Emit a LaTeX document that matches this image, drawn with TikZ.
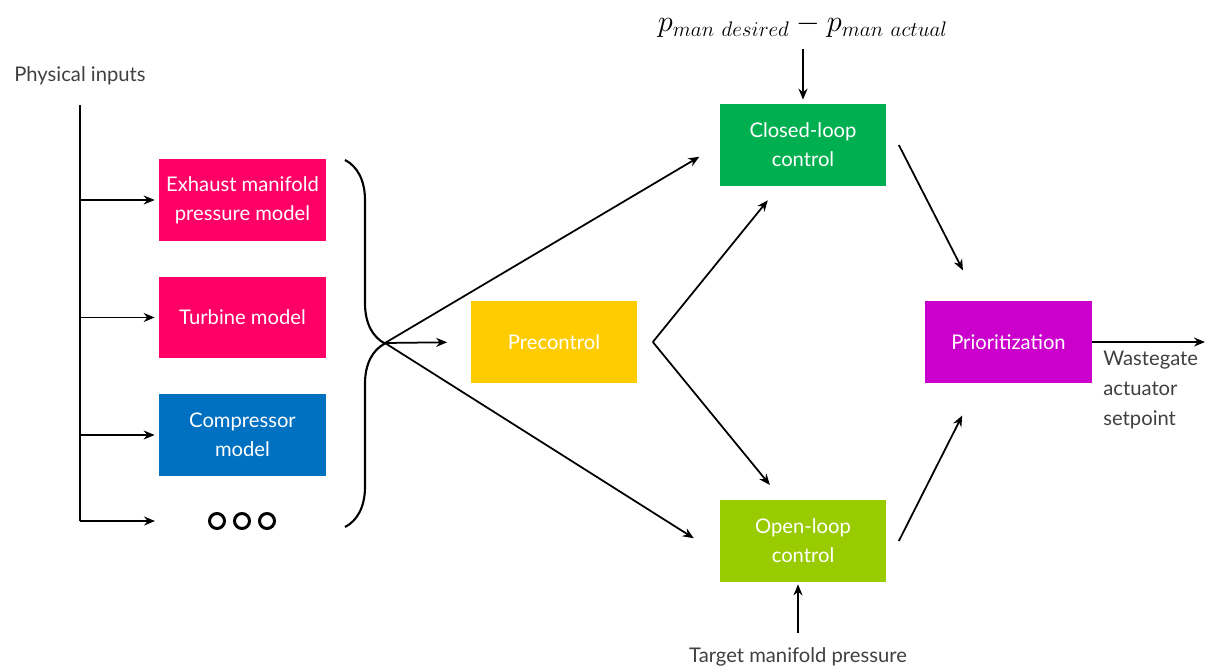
\documentclass[tikz,border=0pt]{standalone}
\usepackage{fontspec}
\setmainfont{Lato}
\usetikzlibrary{arrows.meta}
\usetikzlibrary{decorations.pathreplacing}

\definecolor{exhpink}{HTML}{FF0066}
\definecolor{compblue}{HTML}{0070C0}
\definecolor{preyellow}{HTML}{FFCC00}
\definecolor{clgreen}{HTML}{00B050}
\definecolor{olgreen}{HTML}{99CC00}
\definecolor{priopurple}{HTML}{CC00CC}
\definecolor{labelgray}{HTML}{404040}

\tikzset{
  block/.style={minimum width=3.34cm, minimum height=1.64cm, inner sep=0pt,
    text=white, align=center, font=\fontsize{11.5}{16.5}\selectfont},
  sig/.style={-{Stealth[length=0.22cm,width=0.18cm]}, line width=1pt},
  lbl/.style={text=labelgray, align=left, font=\fontsize{11.5}{17}\selectfont},
  dot/.style={circle, draw, line width=1.7pt, minimum size=0.3cm, inner sep=0pt}
}

\begin{document}
\begin{tikzpicture}[x=0.02cm,y=-0.02cm]
\useasboundingbox (0,0) rectangle (1208,670);

\node[lbl] (inputs) at (80,76) {Physical inputs};
\node[block,fill=exhpink] (exh) at (242.5,200) {Exhaust manifold\\pressure model};
\node[block,fill=exhpink] (turb) at (242.5,317.5) {Turbine model};
\node[block,fill=compblue] (comp) at (242.5,435) {Compressor\\model};
\foreach \i/\x in {1/217,2/242,3/267}
  \node[dot] (dot\i) at (\x,521) {};

\draw[line width=1pt] ([yshift=-0.28cm]inputs.south) -- (inputs.south |- dot1);
\foreach \b in {exh,turb,comp}
  \draw[sig, shorten >=0.08cm] (inputs.south |- \b.west) -- (\b.west);
\draw[sig, shorten >=1.24cm] (inputs.south |- dot1) -- (dot1.center);

\draw[line width=1.2pt, decorate, decoration={brace, amplitude=0.8cm}] (345,160) -- (345,527);
\coordinate (tip) at (385,343);

\node[block,fill=preyellow] (pre) at (554,342) {Precontrol};
\node[block,fill=clgreen] (closed) at (803,145) {Closed-loop\\control};
\node[block,fill=olgreen] (open) at (803,541) {Open-loop\\control};
\node[block,fill=priopurple] (prio) at (1008.5,342) {Prioritization};

\node[font=\fontsize{17}{20}\selectfont] (err) at (803,26) {$p_{man\ desired}-p_{man\ actual}$};
\node[lbl] (target) at (798,657) {Target manifold pressure};
\node[lbl, anchor=north west, inner sep=0pt] (wg) at (1103,351) {Wastegate\\actuator\\setpoint};

\draw[sig, shorten >=0.46cm] (tip) -- (pre.west);
\draw[sig, shorten >=0.46cm] (tip) -- (closed.west);
\draw[sig, shorten >=0.6cm] (tip) -- (open.189);

\coordinate (fork) at ([xshift=0.3cm]pre.east);
\draw[sig, shorten >=0.36cm] (fork) -- (closed.240);
\draw[sig, shorten >=0.38cm] (fork) -- (open.117);

\coordinate (clout) at ([xshift=0.24cm]closed.east);
\coordinate (olout) at ([xshift=0.24cm]open.east);
\draw[sig, shorten >=0.68cm] (clout) -- (prio.126);
\draw[sig, shorten >=0.72cm] (olout) -- (prio.234);

\draw[sig, shorten <=0.1cm, shorten >=0.08cm] (err.south) -- (closed.north);
\draw[sig, shorten <=0.18cm, shorten >=0.04cm] (target.north) -- (target.north |- open.south);

\coordinate (wgout) at (1205,342);
\draw[sig] (prio.east) -- (wgout);
\end{tikzpicture}
\end{document}
